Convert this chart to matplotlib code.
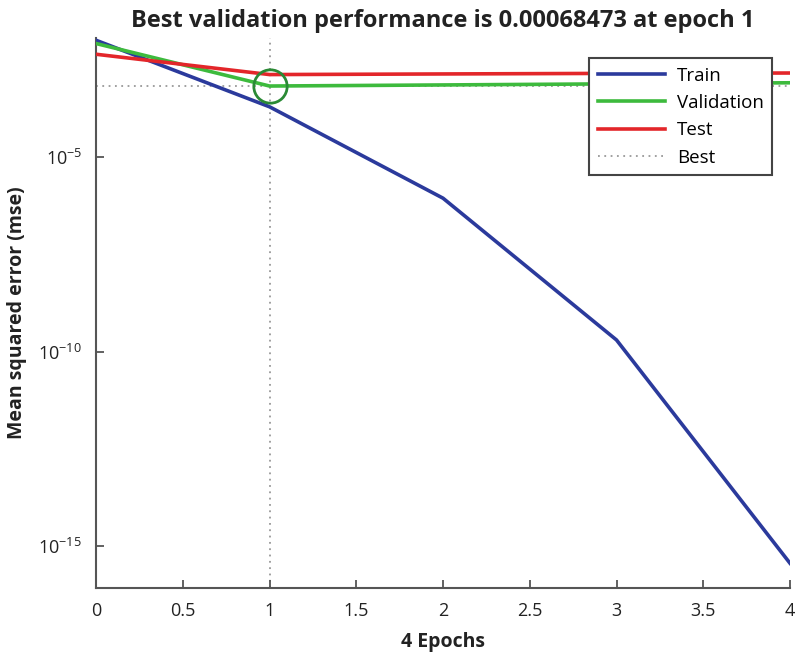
import matplotlib
matplotlib.use("Agg")
import matplotlib.pyplot as plt
import numpy as np

epochs = [0, 1, 2, 3, 4]
train = [1.03e-2, 2.0e-4, 8.9e-7, 2.0e-10, 3.6e-16]
validation = [8.5e-3, 6.8473e-4, 7.3e-4, 7.8e-4, 8.3e-4]
test = [4.5e-3, 1.35e-3, 1.40e-3, 1.45e-3, 1.48e-3]
best_epoch = 1
best_value = 6.8473e-4
xticks = [0, 0.5, 1, 1.5, 2, 2.5, 3, 3.5, 4]
xtick_labels = ["0", "0.5", "1", "1.5", "2", "2.5", "3", "3.5", "4"]

plt.rcParams['font.family'] = ['Open Sans', 'DejaVu Sans']

fig = plt.figure(figsize=(7.95, 6.56), dpi=100)
ax = fig.add_axes([0.1208, 0.1037, 0.8729, 0.8383])

ax.axvline(best_epoch, color='#999999', linestyle=(0, (1, 2.5)), linewidth=1.3, zorder=1)
ax.axhline(best_value, color='#999999', linestyle=(0, (1, 2.5)), linewidth=1.3, zorder=1)
ax.plot(epochs, train, color='#2b3a9c', linewidth=2.6, label='Train', zorder=3)
ax.plot(epochs, validation, color='#3dba3d', linewidth=2.6, label='Validation', zorder=3)
ax.plot(epochs, test, color='#e3262a', linewidth=2.6, label='Test', zorder=3)
ax.plot([], [], color='#999999', linestyle=(0, (1, 2.5)), linewidth=1.3, label='Best')
ax.plot([best_epoch], [best_value], marker='o', markersize=24, markerfacecolor='none',
        markeredgecolor='#2a8a35', markeredgewidth=2.0, zorder=4)

ax.set_yscale('log')
ax.set_xlim(0, 4)
ax.set_ylim(10**-16.08, 10**-1.93)
ax.set_yticks([1e-15, 1e-10, 1e-5])
ax.minorticks_off()
ax.set_xticks(xticks)
ax.set_xticklabels(xtick_labels)

for s in ['top', 'right']:
    ax.spines[s].set_visible(False)
for s in ['left', 'bottom']:
    ax.spines[s].set_color('#555555')
    ax.spines[s].set_linewidth(1.5)
ax.tick_params(direction='in', length=6, width=1.3, color='#555555', labelsize=13,
               labelcolor='#222222', pad=10)

ax.set_title('Best validation performance is 0.00068473 at epoch 1', fontsize=17,
             fontweight='bold', color='#222222', pad=8)
ax.set_xlabel('4 Epochs', fontsize=14, fontweight='bold', color='#222222', labelpad=9)
ax.set_ylabel('Mean squared error (mse)', fontsize=14, fontweight='bold', color='#222222', labelpad=8)

leg = ax.legend(loc='upper right', bbox_to_anchor=(0.974, 0.9636), fontsize=13.5,
                handlelength=3.6, frameon=True, fancybox=False, borderpad=0.45,
                labelspacing=0.5, handletextpad=0.6, borderaxespad=0)
leg.get_frame().set_edgecolor('#444444')
leg.get_frame().set_linewidth(1.5)
leg.get_frame().set_alpha(1)
leg.set_zorder(10)

fig.savefig('out.png', dpi=100)
